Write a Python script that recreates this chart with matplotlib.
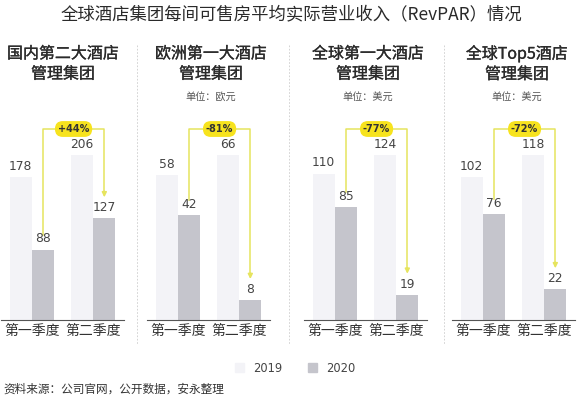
import matplotlib
matplotlib.use("Agg")
import matplotlib.pyplot as plt
import matplotlib.patheffects as pe
from matplotlib.lines import Line2D
from matplotlib.patches import Patch
import numpy as np

plt.rcParams['font.family'] = ['Noto Sans CJK SC', 'DejaVu Sans']

# 数据
panel_titles = ['国内第二大酒店\n管理集团', '欧洲第一大酒店\n管理集团',
                '全球第一大酒店\n管理集团', '全球Top5酒店\n管理集团']
units = [None, '单位：欧元', '单位：美元', '单位：美元']
quarters = ['第一季度', '第二季度']
rev_2019 = [[178, 206], [58, 66], [110, 124], [102, 118]]
rev_2020 = [[88, 127], [42, 8], [85, 19], [76, 22]]
changes = ['+44%', '-81%', '-77%', '-72%']

c19 = '#F3F3F7'
c20 = '#C5C5CC'
yellow = '#F7E31E'
line_y = '#E6E45E'
medium = [pe.withStroke(linewidth=0.2, foreground='#2a2a2a')]

W, H = 582, 400
fig = plt.figure(figsize=(W / 100, H / 100), dpi=100)

fig.text(0.5, 1 - 14 / H, '全球酒店集团每间可售房平均实际营业收入（RevPAR）情况',
         ha='center', va='center', fontsize=12.5, color='#2a2a2a')

lefts = [1, 147, 304, 452]
title_x = [63, 211, 368, 517]
ax_w, ax_h, base = 123, 200, 320
bw = 0.36
x = np.arange(2)

for i in range(4):
    ax = fig.add_axes([lefts[i] / W, (H - base) / H, ax_w / W, ax_h / H])
    ymax = max(rev_2019[i]) * ax_h / 165
    ax.set_ylim(0, ymax)
    ax.set_xlim(-0.5, 1.5)
    ax.bar(x - bw / 2, rev_2019[i], bw, color=c19)
    ax.bar(x + bw / 2, rev_2020[i], bw, color=c20)
    for j in range(2):
        ax.annotate(str(rev_2019[i][j]), (x[j] - bw / 2, rev_2019[i][j]),
                    xytext=(0, 3), textcoords='offset points', ha='center', va='bottom',
                    fontsize=8.8, color='#444444', family='DejaVu Sans')
        ax.annotate(str(rev_2020[i][j]), (x[j] + bw / 2, rev_2020[i][j]),
                    xytext=(0, 3), textcoords='offset points', ha='center', va='bottom',
                    fontsize=8.8, color='#444444', family='DejaVu Sans')
    for s in ['top', 'right', 'left']:
        ax.spines[s].set_visible(False)
    ax.spines['bottom'].set_color('#555555')
    ax.spines['bottom'].set_linewidth(0.8)
    ax.set_yticks([])
    ax.set_xticks(x)
    ax.set_xticklabels(quarters, fontsize=10, color='#333333')
    ax.tick_params(axis='x', length=0, pad=3)

    # 变化括号
    top_f = (base - 129) / ax_h
    y0 = rev_2020[i][0] / ymax + 15 / ax_h
    y1 = rev_2020[i][1] / ymax + 21 / ax_h
    xl, xr = x[0] + bw / 2, x[1] + bw / 2
    tr = ax.get_xaxis_transform()
    ax.plot([xl, xl, xr, xr], [y0, top_f, top_f, y1 + 4 / ax_h], color=line_y,
            lw=1.1, transform=tr, clip_on=False)
    ax.annotate('', xy=(xr, y1), xytext=(xr, y1 + 6 / ax_h), xycoords=tr,
                textcoords=tr, annotation_clip=False,
                arrowprops=dict(arrowstyle='-|>', color=line_y, lw=1.1,
                                mutation_scale=7, shrinkA=0, shrinkB=0))
    ax.text((xl + xr) / 2, top_f, changes[i], transform=tr, ha='center', va='center',
            fontsize=7, weight='bold', color='#333333', family='DejaVu Sans',
            bbox=dict(boxstyle='round,pad=0.3,rounding_size=0.8', fc=yellow, ec='none'))

    fig.text(title_x[i] / W, 1 - 64 / H, panel_titles[i], ha='center', va='center',
             fontsize=11.5, color='#2a2a2a', linespacing=1.25, path_effects=medium)
    if units[i]:
        fig.text(title_x[i] / W, 1 - 97 / H, units[i], ha='center', va='center',
                 fontsize=7.3, color='#555555')

for dx in [137, 289, 444]:
    fig.add_artist(Line2D([dx / W, dx / W], [1 - 45 / H, 1 - 345 / H],
                          transform=fig.transFigure, color='#CCCCCC', lw=0.6,
                          ls=(0, (2, 2))))

handles = [Patch(color=c19, label='2019'), Patch(color=c20, label='2020')]
leg = fig.legend(handles=handles, loc='center', bbox_to_anchor=(0.507, 1 - 368 / H),
                 ncol=2, frameon=False, handlelength=0.8, handleheight=0.8,
                 columnspacing=2.2, handletextpad=0.8,
                 prop={'family': 'DejaVu Sans', 'size': 8.3})
for t in leg.get_texts():
    t.set_color('#444444')

fig.text(3 / W, 1 - 389 / H, '资料来源：公司官网，公开数据，安永整理', ha='left', va='center',
         fontsize=8.4, color='#333333')

fig.savefig('out.png', dpi=100)
